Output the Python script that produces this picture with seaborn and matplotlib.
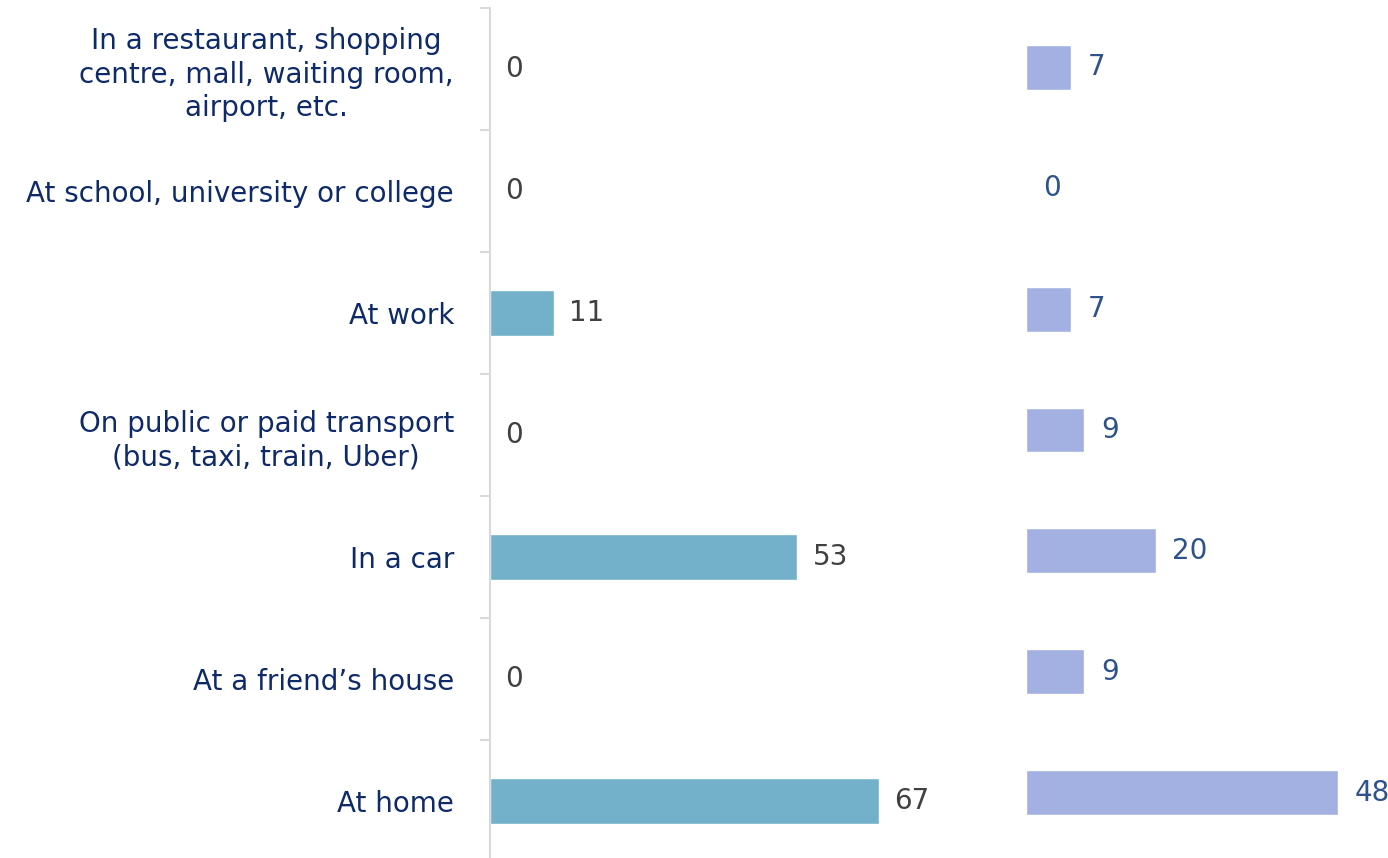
import pandas as pd
import matplotlib.pyplot as plt
import seaborn as sns
import numpy as np

categories = [
    'In a restaurant, shopping\ncentre, mall, waiting room,\nairport, etc.',
    'At school, university or college',
    'At work',
    'On public or paid transport\n(bus, taxi, train, Uber)',
    'In a car',
    'At a friend\u2019s house',
    'At home',
]
left_values = [0, 0, 11, 0, 53, 0, 67]
right_values = [7, 0, 7, 9, 20, 9, 48]

sns.set_style('white')
plt.rcParams['font.family'] = ['DejaVu Sans']

label_col = '#0F2A69'
fig = plt.figure(figsize=(13.88, 8.58), dpi=100)

# left panel
ax1 = fig.add_axes([490 / 1388, -4 / 858, 464 / 1388, 854 / 858])
df1 = pd.DataFrame({'cat': categories, 'val': left_values})
sns.barplot(data=df1, x='val', y='cat', orient='h', color='#72B1C9',
            saturation=1, width=0.37, ax=ax1)
ax1.set_xlim(0, 80)
ax1.set_ylim(len(categories) - 0.5, -0.5)
ax1.set_xlabel('')
ax1.set_ylabel('')
ax1.set_xticks([])
for s in ['top', 'right', 'bottom']:
    ax1.spines[s].set_visible(False)
ax1.spines['left'].set_color('#D9D9D9')
ax1.spines['left'].set_linewidth(1.5)
ax1.set_yticks(np.arange(-0.5, len(categories) - 0.5, 1), minor=True)
ax1.tick_params(axis='y', which='minor', length=7, width=1.5, color='#D9D9D9', left=True)
ax1.tick_params(axis='y', which='major', length=0, pad=26, labelsize=20, labelcolor=label_col)
for t in ax1.get_yticklabels():
    t.set_multialignment('center')
    t.set_linespacing(1.25)
ax1.bar_label(ax1.containers[0], labels=[str(v) for v in left_values],
              padding=11, fontsize=20, color='#404040')

# right panel
ax2 = fig.add_axes([1026 / 1388, 5 / 858, 357 / 1388, 846 / 858])
df2 = pd.DataFrame({'cat': categories, 'val': right_values})
sns.barplot(data=df2, x='val', y='cat', orient='h', color='#A3B1E2',
            saturation=1, width=0.37, ax=ax2)
ax2.set_xlim(0, 55)
ax2.set_ylim(len(categories) - 0.5, -0.5)
ax2.set_xlabel('')
ax2.set_ylabel('')
ax2.set_xticks([])
ax2.set_yticks([])
sns.despine(ax=ax2, left=True, bottom=True)
ax2.bar_label(ax2.containers[0], labels=[str(v) for v in right_values],
              padding=12, fontsize=20, color='#2E5289')

fig.savefig('out.png', dpi=100)
